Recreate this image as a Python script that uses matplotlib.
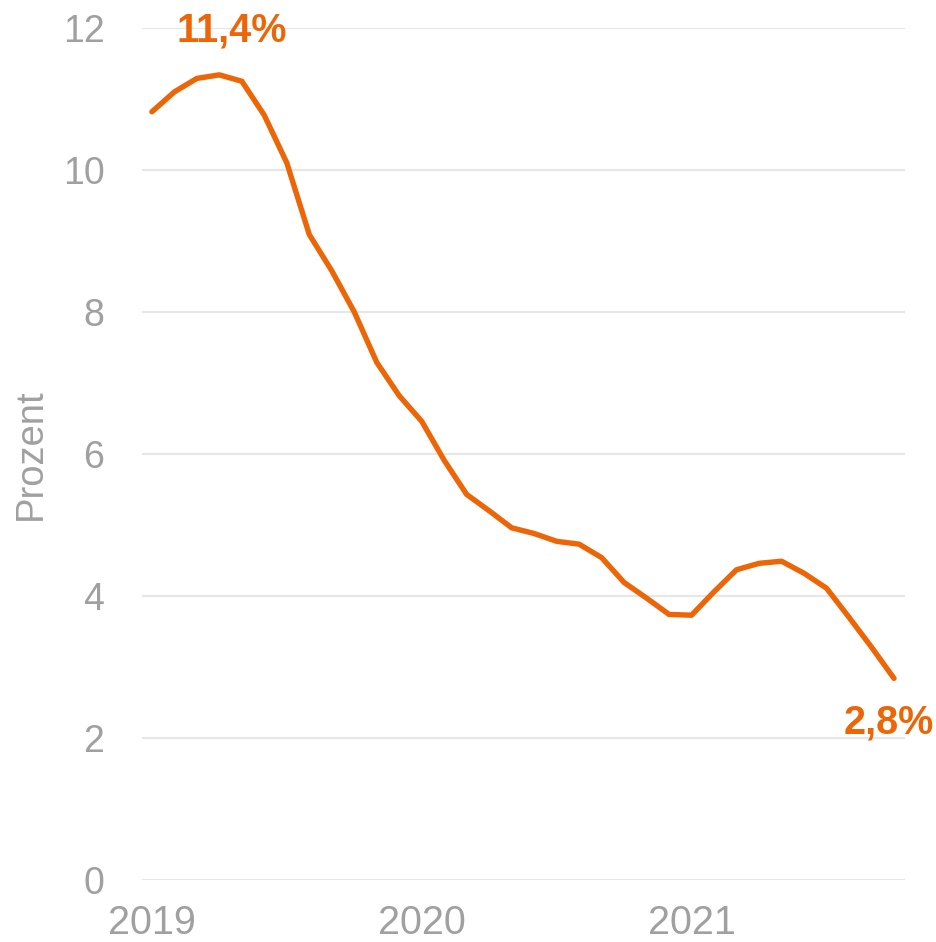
import matplotlib.pyplot as plt

# Monatswerte Jan 2019 - Okt 2021
months = list(range(34))
values = [10.82, 11.10, 11.29, 11.34, 11.25, 10.77, 10.10, 9.09, 8.58, 8.00,
          7.29, 6.82, 6.46, 5.91, 5.43, 5.20, 4.96, 4.88, 4.77, 4.73,
          4.54, 4.19, 3.97, 3.74, 3.73, 4.06, 4.37, 4.46, 4.49, 4.32,
          4.11, 3.70, 3.28, 2.84]
year_pos = [0, 12, 24]
year_labels = ["2019", "2020", "2021"]
y_ticks = [0, 2, 4, 6, 8, 10, 12]

orange = "#ec6608"
grey = "#a0a0a0"

plt.rcParams['font.family'] = ['Liberation Sans', 'DejaVu Sans']

fig = plt.figure(figsize=(9.37, 9.42), dpi=100)
ax = fig.add_axes([142 / 937, 1 - 880 / 942, (905 - 142) / 937, (880 - 28) / 942])

ax.plot(months, values, color=orange, linewidth=3.9, solid_capstyle='round',
        solid_joinstyle='round', clip_on=False, zorder=3)

ax.set_xlim(-0.44, 33.49)
ax.set_ylim(0, 12)
ax.set_yticks(y_ticks)
ax.set_xticks(year_pos)
ax.set_xticklabels(year_labels)
ax.grid(axis='y', color='#e6e6e6', linewidth=1.5)
ax.set_axisbelow(True)
for s in ax.spines.values():
    s.set_visible(False)
ax.tick_params(axis='both', length=0, labelsize=27, labelcolor=grey)
ax.tick_params(axis='y', pad=27)
ax.tick_params(axis='x', pad=17, labelsize=28.5)
ax.set_ylabel("Prozent", fontsize=27.5, color=grey, labelpad=10)

ax.annotate("11,4%", xy=(3, values[3]), xytext=(232, 942 - 31), textcoords='figure pixels',
            ha='center', va='center', fontsize=28.5, fontweight='bold', color=orange)
ax.annotate("2,8%", xy=(33, values[33]), xytext=(934, 942 - 722), textcoords='figure pixels',
            ha='right', va='center', fontsize=28.5, fontweight='bold', color=orange)

fig.savefig("out.png", dpi=100)
